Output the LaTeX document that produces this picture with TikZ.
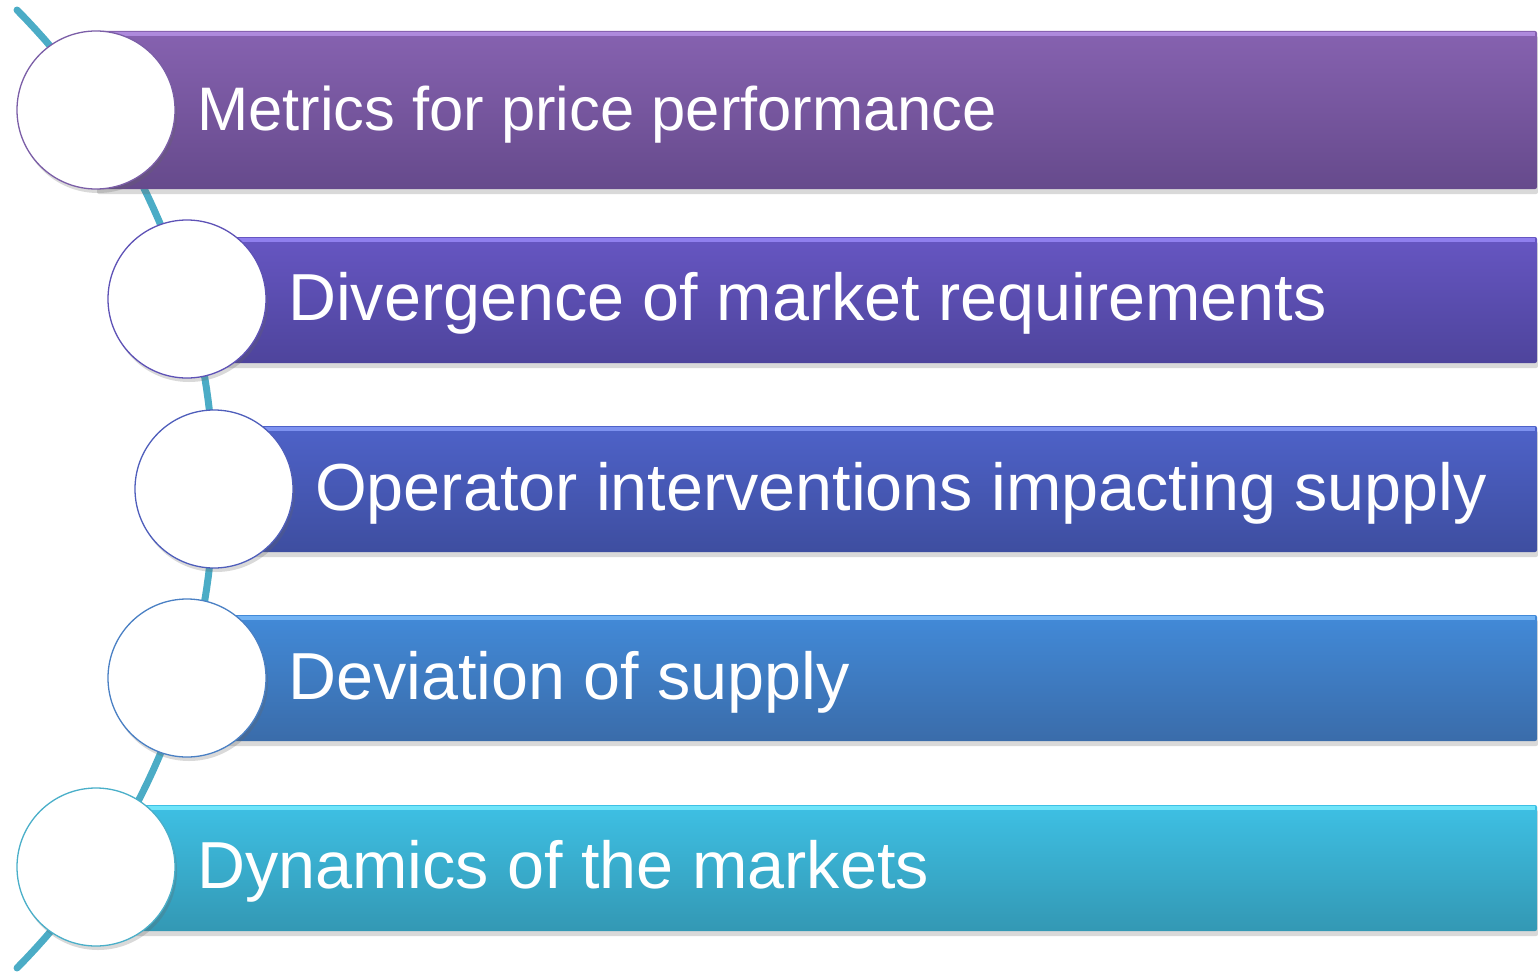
\documentclass[tikz,border=0pt]{standalone}
\usepackage{fontspec}
\setmainfont{Liberation Sans}
\usetikzlibrary{shadows}
\definecolor{arcc}{HTML}{4BACC6}
\definecolor{aT}{HTML}{8662B0}\definecolor{aB}{HTML}{664A8C}\definecolor{aH}{HTML}{B894E8}\definecolor{aS}{HTML}{7B5EA7}
\definecolor{bT}{HTML}{6656C2}\definecolor{bB}{HTML}{4E449C}\definecolor{bH}{HTML}{9A8AFA}\definecolor{bS}{HTML}{5E52B6}
\definecolor{cT}{HTML}{4E62C8}\definecolor{cB}{HTML}{3E4EA0}\definecolor{cH}{HTML}{8A9EFA}\definecolor{cS}{HTML}{4F5EBB}
\definecolor{dT}{HTML}{428AD8}\definecolor{dB}{HTML}{3A6CAA}\definecolor{dH}{HTML}{80BEFA}\definecolor{dS}{HTML}{4A80C4}
\definecolor{eT}{HTML}{3EC0E4}\definecolor{eB}{HTML}{3398B4}\definecolor{eH}{HTML}{7CEEFF}\definecolor{eS}{HTML}{4AAFC9}
\tikzset{
  barbox/.style={inner sep=0pt, outer sep=0pt, rounded corners=2pt,
     drop shadow={shadow xshift=1pt, shadow yshift=-5pt, opacity=0.25, fill=black!60}},
  dot/.style={circle, draw=#1, line width=1.3pt, fill=white, minimum size=158pt, inner sep=0pt,
     drop shadow={shadow xshift=2pt, shadow yshift=-4pt, opacity=0.25, fill=black!60}},
  lbl/.style={anchor=base west, text=white, inner sep=0pt},
}
\begin{document}
\begin{tikzpicture}[x=1pt,y=-1pt]
\useasboundingbox (0,0) rectangle (1538,971);
% arc behind everything
\draw[arcc, line width=7pt, line cap=round]
  plot[domain=-44.7:44.7, samples=80] ({-467+681*cos(\x)}, {489+681*sin(\x)});
% bars
\path[barbox, top color=aT, bottom color=aB] (96,31) rectangle (1537,189);
\path[barbox, top color=bT, bottom color=bB] (187,237) rectangle (1537,363);
\path[barbox, top color=cT, bottom color=cB] (214,426) rectangle (1537,552);
\path[barbox, top color=dT, bottom color=dB] (187,615) rectangle (1537,741);
\path[barbox, top color=eT, bottom color=eB] (96,805) rectangle (1537,931);
% top highlights
\fill[aH, opacity=0.8] (96,32) rectangle (1535,36);
\fill[bH, opacity=0.8] (187,238) rectangle (1535,242);
\fill[cH, opacity=0.8] (214,427) rectangle (1535,431);
\fill[dH, opacity=0.8] (187,616) rectangle (1535,620);
\fill[eH, opacity=0.8] (96,806) rectangle (1535,810);
% circles
\node[dot=aS] (c1) at (96,110) {};
\node[dot=bS] (c2) at (187,299) {};
\node[dot=cS] (c3) at (214,489) {};
\node[dot=dS] (c4) at (187,678) {};
\node[dot=eS] (c5) at (96,867) {};
% labels
\node[lbl, font=\fontsize{61.5}{70}\selectfont] (t1) at (197,130) {Metrics for price performance};
\node[lbl, font=\fontsize{66.5}{75}\selectfont] (t2) at (288,320) {Divergence of market requirements};
\node[lbl, font=\fontsize{66.5}{75}\selectfont] (t3) at (315,510) {Operator interventions impacting supply};
\node[lbl, font=\fontsize{66.5}{75}\selectfont] (t4) at (288,699) {Deviation of supply};
\node[lbl, font=\fontsize{66.5}{75}\selectfont] (t5) at (197,888) {Dynamics of the markets};
\end{tikzpicture}
\end{document}
